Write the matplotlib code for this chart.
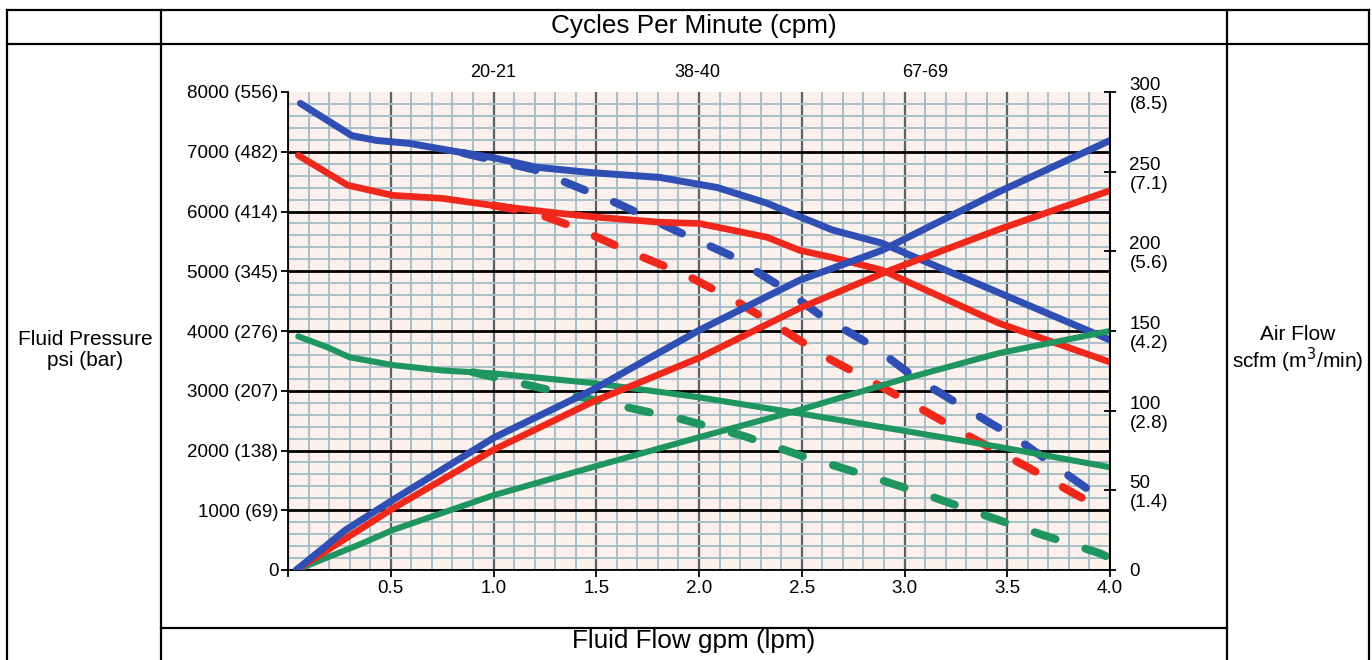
import matplotlib
matplotlib.use("Agg")
import matplotlib.pyplot as plt
from matplotlib.lines import Line2D
from matplotlib.ticker import MultipleLocator

plt.rcParams["font.family"] = ["Liberation Sans", "DejaVu Sans"]

# fluid pressure curves (psi) vs fluid flow (gpm)
blue_p_x = [0.06, 0.31, 0.43, 0.59, 0.84, 1.0, 1.21, 1.48, 1.81, 2.09, 2.33, 2.65, 2.89, 3.46, 4.0]
blue_p_y = [7810, 7270, 7190, 7140, 6990, 6900, 6740, 6650, 6570, 6400, 6140, 5690, 5470, 4640, 3850]
red_p_x = [0.05, 0.29, 0.51, 0.75, 1.0, 1.32, 1.52, 1.81, 2.0, 2.33, 2.49, 2.65, 2.89, 3.46, 4.0]
red_p_y = [6940, 6440, 6270, 6220, 6100, 5970, 5900, 5820, 5800, 5570, 5350, 5230, 5020, 4130, 3480]
green_p_x = [0.05, 0.19, 0.30, 0.51, 0.75, 1.0, 1.48, 1.81, 2.0, 2.49, 2.98, 3.46, 4.0]
green_p_y = [3910, 3730, 3560, 3430, 3340, 3290, 3130, 2980, 2890, 2620, 2340, 2060, 1720]

# dashed pressure curves (psi)
blue_d_x = [0.85, 1.2, 1.4, 1.6, 1.9, 2.15, 2.4, 2.6, 2.85, 3.05, 3.3, 3.55, 3.75, 4.0]
blue_d_y = [6980, 6700, 6420, 6140, 5660, 5270, 4740, 4240, 3740, 3220, 2700, 2190, 1700, 1090]
red_d_x = [1.0, 1.2, 1.4, 1.68, 1.93, 2.18, 2.4, 2.62, 2.87, 3.12, 3.35, 3.6, 3.83, 3.95]
red_d_y = [6100, 5980, 5730, 5300, 4950, 4500, 4040, 3560, 3100, 2620, 2170, 1720, 1270, 1050]
green_d_x = [0.9, 1.0, 1.3, 1.6, 1.92, 2.22, 2.5, 2.8, 3.08, 3.37, 3.66, 3.95, 4.0]
green_d_y = [3310, 3230, 2990, 2760, 2520, 2240, 1910, 1600, 1290, 940, 600, 280, 200]

# air flow curves (scfm)
blue_a_x = [0.04, 0.28, 0.51, 1.0, 1.48, 2.0, 2.49, 2.89, 3.46, 4.0]
blue_a_y = [0, 25.1, 43.9, 82.9, 112.9, 150.4, 181.9, 200.6, 237.4, 269.6]
red_a_x = [0.04, 0.51, 1.0, 1.48, 2.0, 2.49, 2.91, 3.46, 4.0]
red_a_y = [0, 38.6, 75.4, 105.4, 133.1, 164.3, 187.1, 213.8, 238.1]
green_a_x = [0.04, 0.20, 0.35, 0.51, 1.0, 1.48, 2.0, 2.49, 2.98, 3.46, 4.0]
green_a_y = [0, 8.3, 16.1, 25.1, 46.9, 64.5, 83.3, 100.5, 119.3, 136.1, 150.0]

x_ticks = [0, 0.5, 1.0, 1.5, 2.0, 2.5, 3.0, 3.5, 4.0]
x_tick_labels = ["", "0.5", "1.0", "1.5", "2.0", "2.5", "3.0", "3.5", "4.0"]
psi_ticks = [0, 1000, 2000, 3000, 4000, 5000, 6000, 7000, 8000]
psi_labels = ["0", "1000 (69)", "2000 (138)", "3000 (207)", "4000 (276)",
              "5000 (345)", "6000 (414)", "7000 (482)", "8000 (556)"]
scfm_ticks = [0, 50, 100, 150, 200, 250, 300]
scfm_labels = ["0", "50\n(1.4)", "100\n(2.8)", "150\n(4.2)", "200\n(5.6)", "250\n(7.1)", "300\n(8.5)"]
cpm_labels = ["20-21", "38-40", "67-69"]
cpm_x = [1.0, 1.99, 3.1]

BLUE = "#2f4fb4"
RED = "#f0281c"
GREEN = "#1f9560"

W, H = 1372, 660
fig = plt.figure(figsize=(W / 100, H / 100), dpi=100)
fig.patch.set_facecolor("white")


def fx(px):
    return px / W


def fy(py):
    return 1 - py / H


ax = fig.add_axes([fx(288), fy(570), fx(1110) - fx(288), fy(92) - fy(570)])
ax.set_facecolor("#fcf0ec")
ax.set_xlim(0, 4.0)
ax.set_ylim(0, 8000)

ax.xaxis.set_minor_locator(MultipleLocator(0.1))
ax.yaxis.set_minor_locator(MultipleLocator(200))
ax.grid(which="minor", color="#a6bfc8", lw=1.4)
ax.grid(which="major", axis="x", color="#56646a", lw=1.6)
ax.grid(which="major", axis="y", color="black", lw=2.0)
ax.set_axisbelow(True)

ax.set_xticks(x_ticks)
ax.set_xticklabels(x_tick_labels)
ax.set_yticks(psi_ticks)
ax.set_yticklabels(psi_labels)
ax.get_ygridlines()[-1].set_visible(False)
ax.tick_params(which="minor", length=0)
ax.tick_params(which="major", direction="out", length=5, width=1.3, labelsize=13.5, pad=2)

ax.spines["top"].set_visible(False)
for s in ["left", "bottom", "right"]:
    ax.spines[s].set_color("black")
    ax.spines[s].set_linewidth(1.3)

dash_kw = dict(lw=5.8, linestyle=(0, (2.7, 3.9)), dash_capstyle="round")
ax.plot(blue_d_x, blue_d_y, color=BLUE, **dash_kw)
ax.plot(red_d_x, red_d_y, color=RED, **dash_kw)
ax.plot(green_d_x, green_d_y, color=GREEN, **dash_kw)

ax.plot(green_p_x, green_p_y, color=GREEN, lw=4.4, solid_capstyle="round", solid_joinstyle="round")
ax.plot(red_p_x, red_p_y, color=RED, lw=4.8, solid_capstyle="round", solid_joinstyle="round")
ax.plot(blue_p_x, blue_p_y, color=BLUE, lw=5.0, solid_capstyle="round", solid_joinstyle="round")

ax2 = ax.twinx()
ax2.set_ylim(0, 300)
ax2.set_yticks(scfm_ticks)
ax2.set_yticklabels(scfm_labels, linespacing=1.15)
ax2.tick_params(direction="inout", length=8, width=1.3, labelsize=13.5, pad=10)
for s in ["top", "left", "bottom"]:
    ax2.spines[s].set_visible(False)
ax2.spines["right"].set_linewidth(1.3)

ax2.plot(green_a_x, green_a_y, color=GREEN, lw=4.4, solid_capstyle="round", solid_joinstyle="round")
ax2.plot(red_a_x, red_a_y, color=RED, lw=4.8, solid_capstyle="round", solid_joinstyle="round")
ax2.plot(blue_a_x, blue_a_y, color=BLUE, lw=5.0, solid_capstyle="round", solid_joinstyle="round")

for lab, xv in zip(cpm_labels, cpm_x):
    ax.text(xv, 1.04, lab, transform=ax.get_xaxis_transform(), ha="center", va="center", fontsize=13)

# table frame around the chart
frame = [
    ((7, 1369), (10, 10)),
    ((7, 1369), (44, 44)),
    ((161, 1227), (628, 628)),
    ((7, 7), (10, 660)),
    ((161, 161), (10, 660)),
    ((1227, 1227), (10, 660)),
    ((1369, 1369), (10, 660)),
]
for xs, ys in frame:
    fig.add_artist(Line2D([fx(v) for v in xs], [fy(v) for v in ys], color="black", lw=1.6))

fig.text(fx(694), fy(26), "Cycles Per Minute (cpm)", ha="center", va="center", fontsize=18.8)
fig.text(fx(694), fy(641), "Fluid Flow gpm (lpm)", ha="center", va="center", fontsize=18.8)
fig.text(fx(85), fy(350), "Fluid Pressure\npsi (bar)", ha="center", va="center", fontsize=15, linespacing=1.1)
fig.text(fx(1298), fy(350), "Air Flow\nscfm (m$^3$/min)", ha="center", va="center", fontsize=15, linespacing=1.1)

fig.savefig("out.png", dpi=100)
